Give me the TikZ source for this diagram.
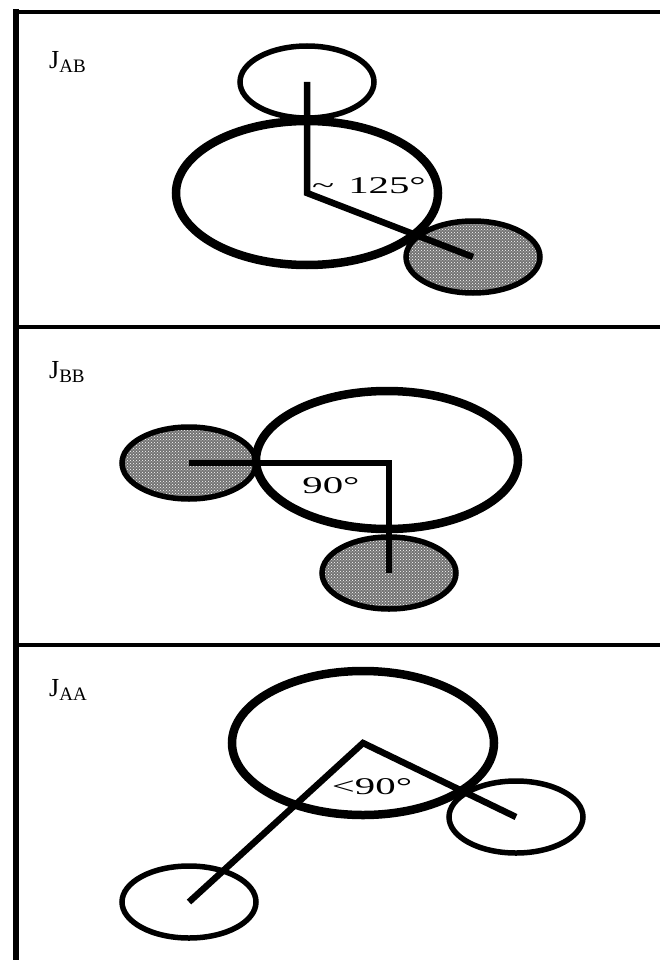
\documentclass[tikz,border=0pt]{standalone}
\usepackage{fontspec}
\setmainfont{Liberation Serif}
\newfontfamily\angfont[FakeStretch=1.7]{Liberation Serif}
\usetikzlibrary{shapes.geometric,patterns}
\newcommand{\jname}[1]{J{\fontsize{19}{19}\selectfont\raisebox{-4pt}{#1}}}

\begin{document}
\begin{tikzpicture}[
  x=1pt,y=-1pt,
  hub/.style={
    ellipse,
    draw,
    line width=8.5pt,
    minimum width=262pt,
    minimum height=144pt,
    inner sep=0pt
  },
  ring/.style={
    ellipse,
    draw,
    line width=5.5pt,
    minimum width=134pt,
    minimum height=72pt,
    inner sep=0pt
  },
  shaded/.style={
    ring,
    preaction={fill=black!55},
    pattern=crosshatch dots,
    pattern color=white
  },
  spoke/.style={
    line width=6.5pt,
    line join=miter
  },
  rule/.style={line width=3.5pt},
  panelname/.style={
    anchor=base west,
    inner sep=0pt,
    font=\fontsize{26}{26}\selectfont
  },
  anglabel/.style={
    inner sep=0pt,
    font=\angfont\fontsize{24}{24}\selectfont
  }
]
\useasboundingbox (0,0) rectangle (660,960);

% frame and panel rules
\draw[line width=6.5pt] (16,9) -- (16,960);
\draw[line width=4pt] (13,12) -- (660,12);
\draw[rule] (16,327) -- (660,327);
\draw[rule] (16,645) -- (660,645);

% J_AB
\node[panelname] (nameAB) at (49,69) {\jname{AB}};
\node[shaded] (tipAB) at (473,257) {};
\node[hub] (hubAB) at (307,193) {};
\node[ring] (capAB) at (307,82) {};
\draw[spoke] (capAB.center) -- (hubAB.center) -- (tipAB.center);
\node[anglabel,anchor=west] (angAB) at (312,186)
  {\textasciitilde\hspace{14pt}125°};

% J_BB
\node[panelname] (nameBB) at (49,378) {\jname{BB}};
\node[shaded] (leftBB) at (189,463) {};
\node[shaded] (lowBB) at (389,573) {};
\node[hub,minimum height=138pt] (hubBB) at (387,460) {};
\draw[spoke] (leftBB.center) -- (lowBB.center |- leftBB.center) -- (lowBB.center);
\node[anglabel] (angBB) at (331,486) {90°};

% J_AA
\node[panelname] (nameAA) at (49,696) {\jname{AA}};
\node[ring] (rightAA) at (516,817) {};
\node[ring] (leftAA) at (189,902) {};
\node[hub] (hubAA) at (363,743) {};
\draw[spoke] (leftAA.center) -- (hubAA.center) -- (rightAA.center);
\node[anglabel] (angAA) at (372,787) {<90°};

\end{tikzpicture}
\end{document}
